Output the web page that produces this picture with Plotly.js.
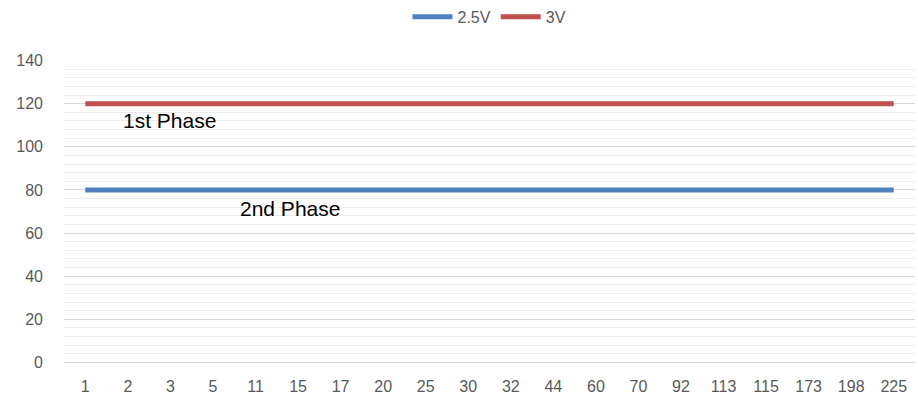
<!DOCTYPE html>
<html>
<head>
<meta charset="utf-8">
<script src="https://cdn.plot.ly/plotly-3.0.1.min.js"></script>
<style>html,body{margin:0;padding:0;background:#fff;}#chart{width:918px;height:403px;}</style>
</head>
<body>
<div id="chart"></div>
<script>
const categories = ["1","2","3","5","11","15","17","20","25","30","32","44","60","70","92","113","115","173","198","225"];
const series25V = [80,80,80,80,80,80,80,80,80,80,80,80,80,80,80,80,80,80,80,80];
const series3V = [120,120,120,120,120,120,120,120,120,120,120,120,120,120,120,120,120,120,120,120];
const seriesNames = ["2.5V", "3V"];
const phaseLabels = ["1st Phase", "2nd Phase"];

const font = "Liberation Sans, Arial, sans-serif";

const traces = [
  {x: categories, y: series25V, name: seriesNames[0], type: "scatter", mode: "lines",
   line: {color: "#4f81bd", width: 5}},
  {x: categories, y: series3V, name: seriesNames[1], type: "scatter", mode: "lines",
   line: {color: "#c0504d", width: 5}}
];

const layout = {
  width: 918, height: 403,
  margin: {l: 64, r: 3, t: 60, b: 40},
  paper_bgcolor: "#fff", plot_bgcolor: "#fff",
  showlegend: true,
  legend: {orientation: "h", x: 0.5, xanchor: "center", y: 0.958, yanchor: "middle", yref: "container",
    font: {family: font, size: 16, color: "#595959"}, itemwidth: 40},
  xaxis: {type: "category", showgrid: false, zeroline: false, showline: false, ticks: "",
    tickfont: {family: font, size: 16, color: "#595959"}, ticklabelstandoff: 12,
    range: [-0.5, 19.5], fixedrange: true},
  yaxis: {range: [-0.3, 140.3], dtick: 20, showgrid: true, gridcolor: "#d9d9d9", gridwidth: 1,
    zeroline: true, zerolinecolor: "#d9d9d9", zerolinewidth: 1, showline: false, ticks: "",
    minor: {dtick: 4, showgrid: true, gridcolor: "#ececec", gridwidth: 1},
    tickfont: {family: font, size: 16, color: "#595959"}, ticklabelstandoff: 20, fixedrange: true},
  annotations: [
    {x: 1.97, y: 112.3, xref: "x", yref: "y", text: phaseLabels[0], showarrow: false,
     font: {family: font, size: 21, color: "#000"}},
    {x: 4.8, y: 71.6, xref: "x", yref: "y", text: phaseLabels[1], showarrow: false,
     font: {family: font, size: 21, color: "#000"}}
  ]
};
Plotly.newPlot("chart", traces, layout, {displayModeBar: false, staticPlot: true});
</script>
</body>
</html>
